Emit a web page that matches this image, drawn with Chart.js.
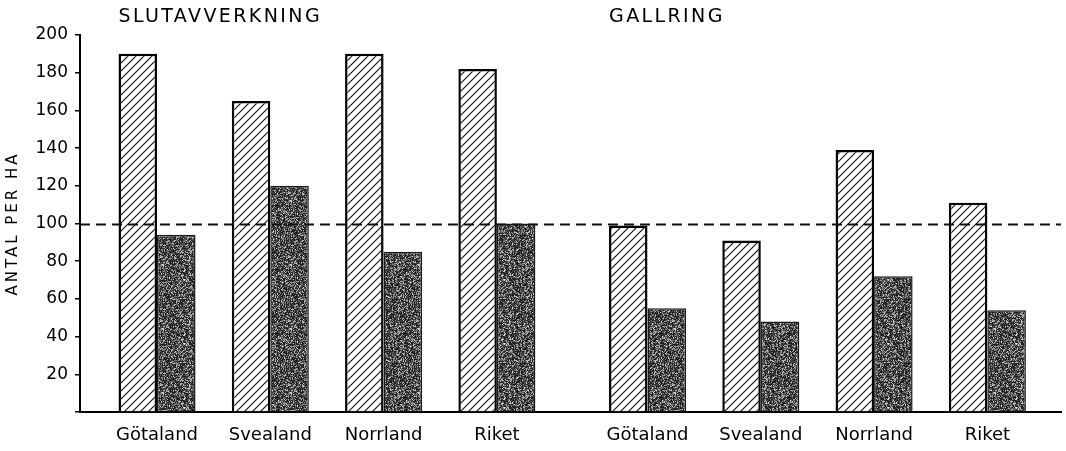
<!DOCTYPE html>
<html><head><meta charset="utf-8">
<script src="https://cdn.jsdelivr.net/npm/chart.js@4/dist/chart.umd.min.js"></script>
<style>html,body{margin:0;padding:0;background:#fff;overflow:hidden}#wrap{width:1066px;height:451px}</style>
</head><body><div id="wrap"><canvas id="c" width="1066" height="451"></canvas></div>
<script>
// ---- data ----
const groupTitles = ['SLUTAVVERKNING', 'GALLRING'];
const regions = ['Götaland', 'Svealand', 'Norrland', 'Riket'];
const hatchedSlutavverkning = [190, 165, 190, 182];
const darkSlutavverkning = [94, 120, 85, 100];
const hatchedGallring = [99, 91, 139, 111];
const darkGallring = [55, 48, 72, 54];
const yTickValues = [20, 40, 60, 80, 100, 120, 140, 160, 180, 200];
const referenceValue = 100;
const yAxisTitle = 'ANTAL PER HA';

// ---- layout helpers ----
const GROUP_GAP = 0.33;
const slotLabels = [...regions, ...regions];
const slotPos = slotLabels.map((_, i) => i + Math.floor(i / regions.length) * GROUP_GAP);
const hatchedAll = [...hatchedSlutavverkning, ...hatchedGallring];
const darkAll = [...darkSlutavverkning, ...darkGallring];

function hatchPattern() {
  const s = 8, c = document.createElement('canvas');
  c.width = c.height = s;
  const g = c.getContext('2d');
  g.fillStyle = '#fff'; g.fillRect(0, 0, s, s);
  g.strokeStyle = '#111'; g.lineWidth = 1.15;
  g.beginPath();
  g.moveTo(-2, s + 2); g.lineTo(s + 2, -2);
  g.moveTo(-2, 2); g.lineTo(2, -2);
  g.moveTo(s - 2, s + 2); g.lineTo(s + 2, s - 2);
  g.stroke();
  return g.createPattern(c, 'repeat');
}
function stipplePattern() {
  const s = 64, c = document.createElement('canvas');
  c.width = c.height = s;
  const g = c.getContext('2d');
  const img = g.createImageData(s, s);
  for (let i = 0; i < s * s; i++) {
    let h = Math.imul(i ^ 0x9e3779b9, 0x85ebca6b);
    h ^= h >>> 13; h = Math.imul(h, 0xc2b2ae35); h ^= h >>> 16;
    const u = (h >>> 0) / 4294967296;
    const v = Math.round(25 + 190 * Math.pow(u, 2.2));
    img.data[i * 4] = v; img.data[i * 4 + 1] = v; img.data[i * 4 + 2] = v; img.data[i * 4 + 3] = 255;
  }
  g.putImageData(img, 0, 0);
  return g.createPattern(c, 'repeat');
}

const refLine = {
  id: 'refLine',
  afterDatasetsDraw(chart) {
    const { ctx, chartArea, scales } = chart;
    const y = Math.round(scales.y.getPixelForValue(referenceValue)) + 0.5;
    ctx.save();
    ctx.strokeStyle = '#111'; ctx.lineWidth = 1.8; ctx.setLineDash([10, 6]);
    ctx.beginPath(); ctx.moveTo(chartArea.left, y); ctx.lineTo(chartArea.right, y); ctx.stroke();
    ctx.restore();
  }
};
const texts = {
  id: 'texts',
  afterDraw(chart) {
    const c = chart.ctx, meta = chart.getDatasetMeta(0), a = chart.chartArea;
    c.save();
    c.fillStyle = '#000';
    c.font = '19px "DejaVu Sans"';
    c.letterSpacing = '2.4px';
    c.textAlign = 'left'; c.textBaseline = 'alphabetic';
    groupTitles.forEach((t, g) => {
      const bar = meta.data[g * regions.length];
      c.fillText(t, bar.x - bar.width / 2, 22);
    });
    c.font = '15px "DejaVu Sans"';
    c.letterSpacing = '3px';
    c.translate(13, (a.top + a.bottom) / 2);
    c.rotate(-Math.PI / 2);
    c.textAlign = 'center'; c.textBaseline = 'middle';
    c.fillText(yAxisTitle, 0, 0);
    c.restore();
  }
};

new Chart(document.getElementById('c'), {
  type: 'bar',
  data: {
    datasets: [
      { data: hatchedAll.map((v, i) => ({ x: slotPos[i], y: v })), backgroundColor: hatchPattern(), borderColor: '#000', borderWidth: 2.5 },
      { data: darkAll.map((v, i) => ({ x: slotPos[i], y: v })), backgroundColor: stipplePattern(), borderColor: '#1a1a1a', borderWidth: 1.5 }
    ]
  },
  options: {
    responsive: false, animation: false, devicePixelRatio: 1,
    datasets: { bar: { categoryPercentage: 0.68, barPercentage: 1 } },
    layout: { padding: { top: 35, right: 5, left: 0, bottom: 0 } },
    plugins: { legend: { display: false }, tooltip: { enabled: false } },
    scales: {
      x: {
        type: 'linear', offset: false,
        min: slotPos[0] - 0.68, max: slotPos[slotPos.length - 1] + 0.65,
        grid: { display: false, drawTicks: false, offset: false },
        border: { display: true, color: '#000', width: 2 },
        ticks: { autoSkip: false, maxRotation: 0, padding: 13, color: '#000', font: { family: 'DejaVu Sans', size: 18 }, callback: (v, i) => slotLabels[i] },
        afterBuildTicks: s => { s.ticks = slotPos.map(v => ({ value: v })); },
        afterFit: s => { s.height = 39; }
      },
      y: {
        min: 0, max: 200,
        afterBuildTicks: s => { s.ticks = [0, ...yTickValues].map(v => ({ value: v })); },
        ticks: { padding: 7, color: '#000', font: { family: 'DejaVu Sans', size: 17 }, callback: v => (v === 0 ? '' : String(v)) },
        grid: { drawOnChartArea: false, drawTicks: true, tickLength: 5, color: '#000', lineWidth: 1.5 },
        border: { display: true, color: '#000', width: 2 },
        afterFit: s => { s.width = 80; }
      }
    }
  },
  plugins: [refLine, texts]
});
</script>
</body></html>
